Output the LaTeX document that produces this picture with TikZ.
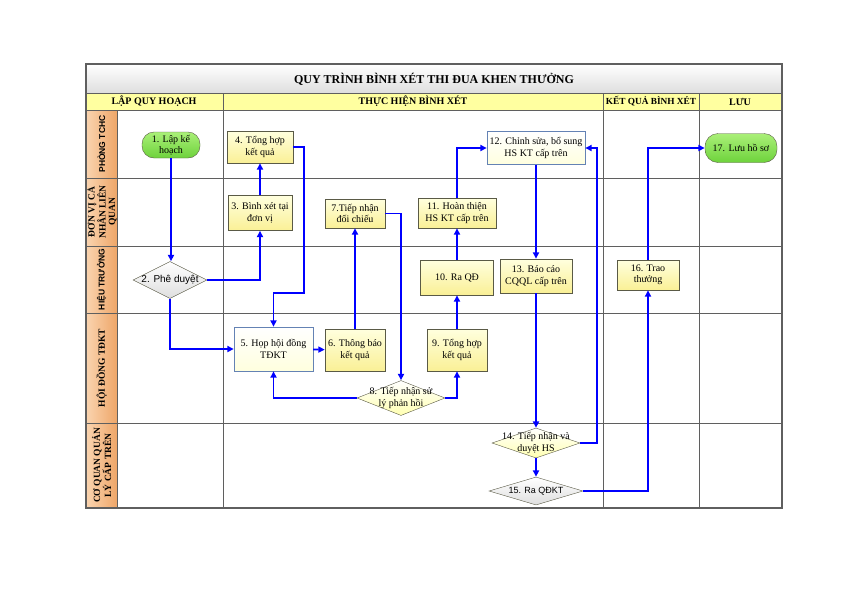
\documentclass[tikz,border=0pt]{standalone}
\usepackage{fontspec}
\setmainfont{Liberation Serif}
\setsansfont{Liberation Sans}
\usetikzlibrary{positioning, arrows.meta, shapes.geometric, calc}

\definecolor{flowblue}{RGB}{0,0,255}
\definecolor{gridgray}{RGB}{95,95,95}
\definecolor{titlegray}{RGB}{222,222,222}
\definecolor{headyellow}{RGB}{255,255,160}
\definecolor{lanelight}{RGB}{250,212,176}
\definecolor{lanedark}{RGB}{238,166,104}
\definecolor{boxtop}{RGB}{255,255,222}
\definecolor{boxbot}{RGB}{250,240,150}
\definecolor{boxline}{RGB}{90,90,70}
\definecolor{blueline}{RGB}{100,130,180}
\definecolor{greentop}{RGB}{170,240,120}
\definecolor{greenbot}{RGB}{110,210,60}

\begin{document}
\begin{tikzpicture}[
    x=1pt, y=-1pt,
    nodefont/.style={font=\fontsize{10}{11.5}\selectfont},
    box/.style={draw=boxline, rectangle, nodefont, align=center, inner sep=1pt,
        top color=boxtop, bottom color=boxbot},
    bluebox/.style={box, draw=blueline, top color=white, bottom color=boxtop},
    term/.style={draw=boxline, rectangle, rounded corners=12pt, nodefont, align=center,
        top color=greentop, bottom color=greenbot, inner sep=1pt},
    dec/.style={draw=boxline, diamond, inner sep=0pt, top color=white, bottom color=titlegray},
    ydec/.style={dec, top color=white, bottom color=boxtop!80!yellow},
    dectext/.style={nodefont, align=center, inner sep=0pt},
    sanstext/.style={dectext, font=\sffamily\fontsize{10}{11.5}\selectfont},
    head/.style={font=\bfseries\fontsize{10}{11}\selectfont},
    lane/.style={rotate=90, align=center, font=\bfseries\fontsize{9.5}{9.5}\selectfont, inner sep=0pt},
    sanslane/.style={lane, font=\sffamily\bfseries\fontsize{8.5}{9}\selectfont},
    grid/.style={draw=gridgray, line width=0.8pt},
    flow/.style={-{Triangle[length=6.5pt, width=6pt]}, draw=flowblue, line width=1.8pt},
]
\useasboundingbox (0,0) rectangle (842,595);

% Title and header rows
\path[top color=white, bottom color=titlegray] (86,64) rectangle (782,93);
\node[font=\bfseries\fontsize{12}{14}\selectfont] (title) at (434,79) {QUY TRÌNH BÌNH XÉT THI ĐUA KHEN THƯỞNG};
\path[fill=headyellow] (86,93) rectangle (782,110);
\node[head] (h_plan) at (154,101.5) {LẬP QUY HOẠCH};
\node[head] (h_exec) at (413,101.5) {THỰC HIỆN BÌNH XÉT};
\node[head, font=\bfseries\fontsize{9.3}{10}\selectfont] (h_res) at (651,101.5) {KẾT QUẢ BÌNH XÉT};
\node[head] (h_save) at (740,101.5) {LƯU};

% Lane labels
\path[left color=lanelight, right color=lanedark] (86,110) rectangle (117,508);
\node[sanslane] (l_tchc) at (101.5,144) {PHÒNG TCHC};
\node[lane] (l_dv) at (101.5,212) {ĐƠN VỊ CÁ\\NHÂN LIÊN\\QUAN};
\node[sanslane] (l_ht) at (101.5,279.5) {HIỆU TRƯỞNG};
\node[lane] (l_hd) at (101.5,368) {HỘI ĐỒNG TĐKT};
\node[lane] (l_cq) at (101.5,465.5) {CƠ QUAN QUẢN\\LÝ CẤP TRÊN};

% Grid
\foreach \yy in {178,246,313,423} {
    \draw[grid] (86,\yy) -- (782,\yy);
}
\draw[grid] (86,93) -- (782,93);
\draw[grid] (86,110) -- (782,110);
\draw[grid] (117,110) -- (117,508);
\foreach \xx in {223,603,699} {
    \draw[grid] (\xx,93) -- (\xx,508);
}
\draw[draw=gridgray, line width=1.2pt] (86,64) rectangle (782,508);

% Steps
\node[term, minimum width=58pt, minimum height=26pt] (t1) at (171,145) {1. Lập kế\\hoạch};
\node[dec, minimum width=74pt, minimum height=37pt] (d2) at (170,280) {};
\node[sanstext] (d2t) at (d2) {2. Phê duyệt};
\node[box, minimum width=64pt, minimum height=35pt] (b3) at (260,213) {3. Bình xét tại\\đơn vị};
\node[box, minimum width=66pt, minimum height=32pt] (b4) at (260,147) {4. Tổng hợp\\kết quả};
\node[bluebox, minimum width=79pt, minimum height=44pt] (b5) at (273.5,349) {5. Họp hội đồng\\TĐKT};
\node[box, minimum width=60pt, minimum height=42pt] (b6) at (355,350) {6. Thông báo\\kết quả};
\node[box, minimum width=60pt, minimum height=29pt] (b7) at (355,213.5) {7.Tiếp nhận\\đối chiếu};
\node[ydec, minimum width=88pt, minimum height=35pt] (d8) at (401,398) {};
\node[dectext] (d8t) at (d8) {8. Tiếp nhận sử\\lý phản hồi};
\node[box, minimum width=60pt, minimum height=42pt] (b9) at (457,350) {9. Tổng hợp\\kết quả};
\node[box, minimum width=73pt, minimum height=35pt] (b10) at (457,277.5) {10. Ra QĐ};
\node[box, minimum width=78pt, minimum height=30pt] (b11) at (457,213) {11. Hoàn thiện\\HS KT cấp trên};
\node[bluebox, minimum width=98pt, minimum height=33pt] (b12) at (536,148) {12. Chỉnh sửa, bổ sung\\HS KT cấp trên};
\node[box, minimum width=72pt, minimum height=34pt] (b13) at (536,276) {13. Báo cáo\\CQQL cấp trên};
\node[ydec, minimum width=88pt, minimum height=30pt] (d14) at (536,443) {};
\node[dectext] (d14t) at (d14) {14. Tiếp nhận và\\duyệt HS};
\node[dec, minimum width=94pt, minimum height=28pt] (d15) at (536,491) {};
\node[sanstext, font=\sffamily\fontsize{9}{10}\selectfont] (d15t) at (d15) {15. Ra QĐKT};
\node[box, minimum width=62pt, minimum height=30pt] (b16) at (648,275) {16. Trao\\thưởng};
\node[term, minimum width=72pt, minimum height=29pt, rounded corners=13pt] (t17) at (741,148) {17. Lưu hồ sơ};

% Connectors
\draw[flow] (t1) -- (t1 |- d2.north);
\draw[flow] (d2.east) -| (b3.south);
\draw[flow] (b3) -- (b4);
\draw[flow] (b4.east) -| (304,293) -| (b5.north);
\draw[flow] (d2.south) |- (b5.west);
\draw[flow] (b5) -- (b6);
\draw[flow] (b6.north) -- (b6.north |- b7.south);
\draw[flow] (b7.east) -| (d8.north);
\draw[flow] (d8.west) -| (b5.south);
\draw[flow] (d8.east) -| (b9.south);
\draw[flow] (b9) -- (b10);
\draw[flow] (b10) -- (b11);
\draw[flow] (b11.north) |- (b12.west);
\draw[flow] (b12) -- (b13);
\draw[flow] (b13) -- (d14);
\draw[flow] (d14.east) -- ++(17,0) |- (b12.east);
\draw[flow] (d14) -- (d15);
\draw[flow] (d15.east) -| (b16.south);
\draw[flow] (b16.north) |- (t17.west);

\end{tikzpicture}
\end{document}
